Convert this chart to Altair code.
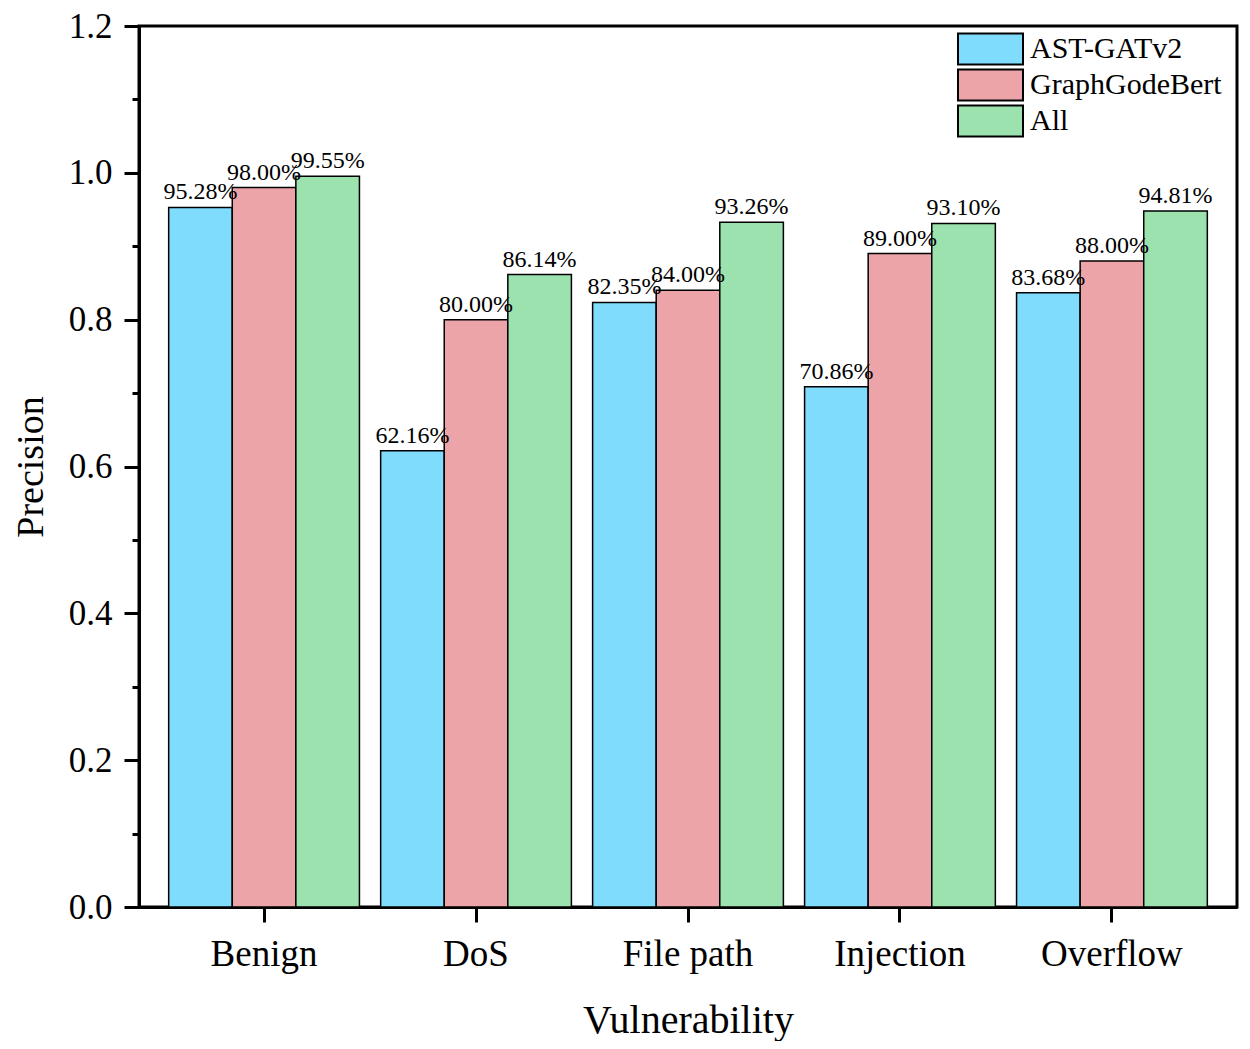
import altair as alt
import pandas as pd

categories = ["Benign", "DoS", "File path", "Injection", "Overflow"]
models = ["AST-GATv2", "GraphGodeBert", "All"]
ast_gatv2 = [0.9528, 0.6216, 0.8235, 0.7086, 0.8368]
graphcodebert = [0.9800, 0.8000, 0.8400, 0.8900, 0.8800]
all_feat = [0.9955, 0.8614, 0.9326, 0.9310, 0.9481]
colors = ["#80DCFC", "#EDA4A9", "#9CE2AE"]
y_ticks = [0.0, 0.1, 0.2, 0.3, 0.4, 0.5, 0.6, 0.7, 0.8, 0.9, 1.0, 1.1, 1.2]

rows = []
for m, vals in zip(models, [ast_gatv2, graphcodebert, all_feat]):
    for c, v in zip(categories, vals):
        rows.append({"Vulnerability": c, "Model": m, "Precision": v})
df = pd.DataFrame(rows)

FONT = "Liberation Serif"

x = alt.X("Vulnerability:N", sort=categories,
          scale=alt.Scale(paddingInner=0.1, paddingOuter=0.14),
          axis=alt.Axis(title="Vulnerability", labelAngle=0, labelFontSize=37,
                        titleFontSize=40, labelPadding=14, titlePadding=28,
                        tickSize=15, tickWidth=3, tickColor="black",
                        domainWidth=3, domainColor="black",
                        labelColor="black", titleColor="black",
                        labelFont=FONT, titleFont=FONT, titleFontWeight="normal"))
y = alt.Y("Precision:Q", scale=alt.Scale(domain=[0, 1.2], nice=False, zero=True),
          axis=alt.Axis(title="Precision", values=y_ticks,
                        labelExpr="round(datum.value*10) % 2 === 0 ? format(datum.value, '.1f') : ''",
                        tickSize={"condition": {"test": "round(datum.value*10) % 2 === 0", "value": 15}, "value": 7},
                        tickWidth=3, tickColor="black", domainWidth=3, domainColor="black",
                        labelFontSize=35, titleFontSize=38, labelPadding=12, titlePadding=18,
                        labelColor="black", titleColor="black", grid=False,
                        labelFont=FONT, titleFont=FONT, titleFontWeight="normal"))
xo = alt.XOffset("Model:N", sort=models, scale=alt.Scale(paddingInner=0, paddingOuter=0))

bars = alt.Chart(df).mark_bar(stroke="black", strokeWidth=1.5).encode(
    x=x, y=y, xOffset=xo,
    color=alt.Color("Model:N", sort=models,
                    scale=alt.Scale(domain=models, range=colors),
                    legend=alt.Legend(title=None, orient="none", legendX=818, legendY=6,
                                      symbolType="M-1,-0.477H1V0.477H-1Z", symbolSize=4225,
                                      symbolStrokeColor="black", symbolStrokeWidth=2,
                                      symbolOpacity=1, clipHeight=34, rowPadding=2,
                                      labelFontSize=30, labelFont=FONT, labelColor="black",
                                      labelLimit=400,
                                      labelOffset=6, padding=0)),
)

labels = alt.Chart(df).mark_text(baseline="bottom", dy=-3, fontSize=24, font=FONT, color="black").encode(
    x=x, y=y, xOffset=xo,
    text=alt.Text("Precision:Q", format=".2%"),
)

chart = alt.layer(bars, labels).properties(
    width=1098, height=881,
    background="white",
    autosize=alt.AutoSizeParams(type="none"),
    padding={"left": 131, "top": 18, "right": 5, "bottom": 134},
).configure_view(stroke="black", strokeWidth=3)

chart.save("out.html", embed_options={"renderer": "svg", "actions": False})
